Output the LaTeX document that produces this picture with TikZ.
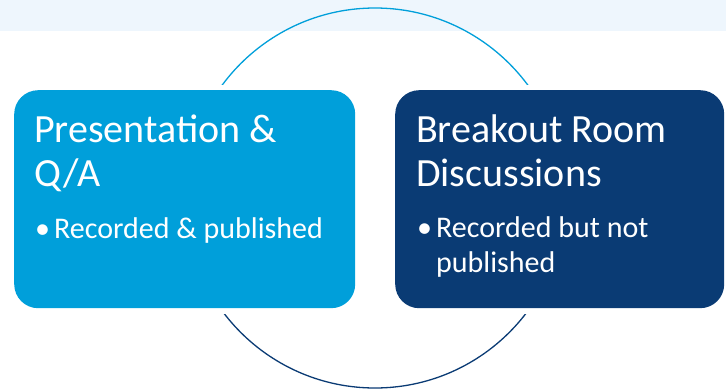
\documentclass[tikz,border=0pt]{standalone}
\usepackage{fontspec}
\setmainfont{Carlito}
\definecolor{lightband}{HTML}{EEF6FD}
\definecolor{cyanbox}{HTML}{009FDA}
\definecolor{navybox}{HTML}{0A3B74}
\begin{document}
\begin{tikzpicture}[x=1pt,y=-1pt,
  box/.style={rounded corners=24pt, inner sep=0pt, anchor=north west, draw=none},
  titletext/.style={text=white, font=\fontsize{40}{44}\selectfont, anchor=base west, inner sep=0pt},
  bullettext/.style={text=white, font=\fontsize{30}{35}\selectfont, anchor=base west, inner sep=0pt},
  ring/.style={line width=1.3pt}]
\useasboundingbox (0,0) rectangle (726,391);
\fill[lightband] (0,0) rectangle (726,31);
\coordinate (ctr) at (375,198);
\begin{scope}
  \clip (0,0) rectangle (726,84);
  \draw[ring, cyanbox] (ctr) circle[radius=190pt];
\end{scope}
\begin{scope}
  \clip (0,314) rectangle (726,391);
  \draw[ring, navybox] (ctr) circle[radius=190pt];
\end{scope}
\node[box, fill=cyanbox, minimum width=341pt, minimum height=218pt] (pres) at (14,90) {};
\node[box, fill=navybox, minimum width=329pt, minimum height=218pt] (brk) at (395,90) {};
\node[titletext] (p1) at (34,142) {Presentation \&};
\node[titletext] (p2) at (34,186) {Q/A};
\node[bullettext] (pb) at (35,238) {•};
\node[bullettext] (pt) at (54,238) {Recorded \& published};
\node[titletext] (b1) at (416,142) {Breakout Room};
\node[titletext] (b2) at (416,186) {Discussions};
\node[bullettext] (bb) at (417,237) {•};
\node[bullettext] (bt1) at (436,237) {Recorded but not};
\node[bullettext] (bt2) at (436,272) {published};
\end{tikzpicture}
\end{document}
